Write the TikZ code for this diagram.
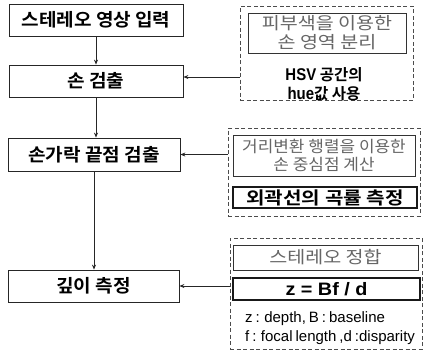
\documentclass[tikz,border=0pt]{standalone}
\usepackage{fontspec}
\setmainfont{Liberation Sans}
\newfontfamily\wide{Liberation Sans}[FakeStretch=1.1]
\newfontfamily\lat{Liberation Sans}[FakeStretch=0.88]
\newfontfamily\kr{Noto Sans CJK KR}[BoldFont={Noto Sans CJK KR Bold}]
\newfontfamily\krm{Noto Sans CJK KR}[BoldFont={Noto Sans CJK KR Bold}, FakeStretch=1.06]
\newfontfamily\krw{Noto Sans CJK KR}[BoldFont={Noto Sans CJK KR Bold}, FakeStretch=1.15]
\newcommand\mydescfont{\fontsize{15}{17}\selectfont\spaceskip=0.2em plus 0.05em\relax}
\usetikzlibrary{arrows.meta}
\tikzset{
  mainbox/.style={draw=black!85, line width=0.8pt, inner sep=0pt, minimum height=32pt,
    font=\krm\bfseries\fontsize{18}{20}\selectfont},
  groupbox/.style={draw=black!70, line width=0.7pt, dash pattern=on 4pt off 2.5pt, inner sep=0pt},
  lightbox/.style={draw=black!80, line width=0.8pt, inner sep=0pt, align=center,
    text=black!60, font=\krw\fontsize{17}{19}\selectfont},
  thickbox/.style={draw=black!90, line width=1.5pt, inner sep=0pt},
  flow/.style={draw=black!85, line width=0.8pt, -{Stealth[length=5pt,width=4pt]}},
  desc/.style={anchor=west, inner sep=0pt, font=\mydescfont},
}
\begin{document}
\begin{tikzpicture}[x=1pt,y=-1pt]
\useasboundingbox[fill=white] (0,0) rectangle (425,360);
% main column
\node[mainbox, minimum width=174pt] (b1) at (96,20) {스테레오 영상 입력};
\node[mainbox, minimum width=174pt] (b2) at (96,81) {손 검출};
\node[mainbox, minimum width=172pt, minimum height=33pt] (b3) at (94,154.5) {손가락 끝점 검출};
\node[mainbox, minimum width=171pt] (b4) at (93.5,286) {깊이 측정};
% group 1
\node[groupbox, minimum width=173pt, minimum height=94pt] (d1) at (326.5,53) {};
\node[lightbox, minimum width=158pt, minimum height=40pt] (i1) at (327,33) {피부색을 이용한\\손 영역 분리};
\node[font=\kr\bfseries\fontsize{15.5}{19}\selectfont, align=center, inner sep=0pt] (t1) at (324,84) {{\lat\fontsize{17}{19}\selectfont HSV} 공간의\\{\lat\fontsize{17}{19}\selectfont hue}값 사용};
% group 2
\node[groupbox, minimum width=192pt, minimum height=88pt] (d2) at (324,172) {};
\node[lightbox, minimum width=182pt, minimum height=41pt, font=\krm\fontsize{16}{18.5}\selectfont] (i2) at (324,155.5) {거리변환 행렬을 이용한\\손 중심점 계산};
\node[thickbox, minimum width=184pt, minimum height=21pt, font=\krw\bfseries\fontsize{17.5}{18}\selectfont] (i3) at (325,197.5) {외곽선의 곡률 측정};
% group 3
\node[groupbox, minimum width=192pt, minimum height=111pt] (d3) at (326,293.5) {};
\node[lightbox, minimum width=185pt, minimum height=25pt] (i4) at (325.5,257.5) {스테레오 정합};
\node[thickbox, minimum width=187pt, minimum height=22pt, font=\wide\bfseries\fontsize{18}{18}\selectfont] (i5) at (326.5,289) {z = Bf / d};
\node[desc] (t2) at (245,319) {z : depth, B : baseline};
\node[desc] (t3) at (245,338) {f : focal length ,d :disparity};
% connectors
\coordinate (c1) at (d1.west |- 0,77);
\draw[flow] (b1.south) -- (b1.south |- b2.north);
\draw[flow] (b2.south) -- (b2.south |- b3.north);
\draw[flow] (b3.south) -- (b3.south |- b4.north);
\draw[flow] (c1) -- (c1 -| b2.east);
\draw[flow] (d2.west |- b3.east) -- (b3.east);
\draw[flow] (d3.west |- b4.east) -- (b4.east);
\end{tikzpicture}
\end{document}
